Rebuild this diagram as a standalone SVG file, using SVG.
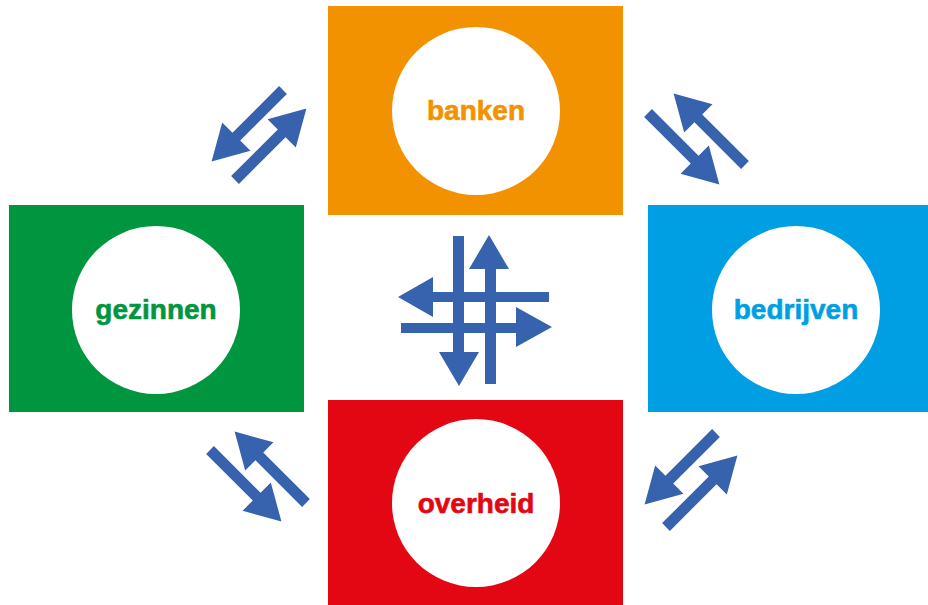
<svg xmlns="http://www.w3.org/2000/svg" width="928" height="605" viewBox="0 0 928 605">
<style>
.lbl{font-family:"Liberation Sans",Arial,sans-serif;font-weight:bold;font-size:28px;text-anchor:middle;stroke-width:0.6}
.arr{fill:#3762AD}
.circ{fill:#FFFFFF}
</style>
<defs>
<polygon id="ar" points="0,-5.5 66,-5.5 66,-20 101,0 66,20 66,5.5 0,5.5"/>
</defs>
<rect width="928" height="605" fill="#FFFFFF"/>
<g id="banken">
<rect x="328" y="6" width="295" height="209" fill="#F39200"/>
<circle class="circ" cx="476" cy="111" r="84"/>
<text class="lbl" x="476" y="120" fill="#F39200" stroke="#F39200">banken</text>
</g>
<g id="gezinnen">
<rect x="9" y="205" width="295" height="207" fill="#009640"/>
<circle class="circ" cx="156" cy="310" r="84"/>
<text class="lbl" x="156" y="319" fill="#009640" stroke="#009640">gezinnen</text>
</g>
<g id="bedrijven">
<rect x="648" y="205" width="280" height="207" fill="#009FE3"/>
<circle class="circ" cx="796" cy="310" r="84"/>
<text class="lbl" x="796" y="319" fill="#009FE3" stroke="#009FE3">bedrijven</text>
</g>
<g id="overheid">
<rect x="328" y="400" width="295" height="205" fill="#E30613"/>
<circle class="circ" cx="476" cy="503" r="84"/>
<text class="lbl" x="476" y="513" fill="#E30613" stroke="#E30613">overheid</text>
</g>
<g id="connectors" class="arr">
<use href="#ar" transform="translate(283,90) rotate(135)"/>
<use href="#ar" transform="translate(235,180) rotate(-45)"/>
<use href="#ar" transform="translate(648,113) rotate(45)"/>
<use href="#ar" transform="translate(745,165) rotate(-135)"/>
<use href="#ar" transform="translate(210,450) rotate(45)"/>
<use href="#ar" transform="translate(306,503) rotate(-135)"/>
<use href="#ar" transform="translate(716,433) rotate(135)"/>
<use href="#ar" transform="translate(666,527) rotate(-45)"/>
<polygon points="453,236 464,236 464,352 479,352 459,386 439,352 453,352"/>
<polygon points="485,384 496,384 496,269 509,269 489,235 469,269 485,269"/>
<polygon points="549,292 549,302 433,302 433,317 398,297 433,277 433,292"/>
<polygon points="401,323 401,333 516,333 516,347 552,327 516,307 516,323"/>
</g>
</svg>
